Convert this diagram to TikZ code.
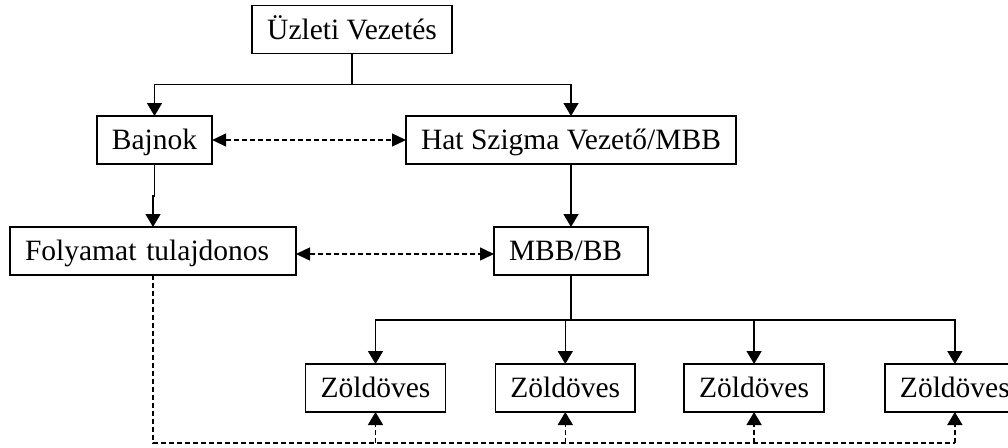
\documentclass[tikz,border=0pt]{standalone}
\usepackage{fontspec}
\setmainfont{Liberation Serif}
\usepackage{tikz}
\usetikzlibrary{arrows.meta,positioning}

\tikzset{
  box/.style={draw, line width=1.5pt, outer sep=0pt, inner xsep=15pt,
    minimum height=48pt, text height=23.6pt, text depth=4.1pt,
    font=\fontsize{29.5}{35}\selectfont},
  arr/.style={-{Triangle[length=13pt,width=15pt]}},
  biarr/.style={{Triangle[length=14pt,width=13pt]}-{Triangle[length=14pt,width=13pt]}},
  link/.style={line width=1.5pt},
  dline/.style={line width=1.5pt, dash pattern=on 5pt off 3pt},
}

\begin{document}
\begin{tikzpicture}[x=1pt, y=-1pt]
        \useasboundingbox (0,0) rectangle (1008,447);
        \clip (0,0) rectangle (1008,447);
        \node [box, minimum width=200pt] (uzleti) at (352,29.5) {Üzleti Vezetés};
        \node [box, minimum width=113pt] (bajnok) at (154.5,140) {Bajnok};
        \node [box, minimum width=330pt] (hatszigma) at (571,140) {Hat Szigma Vezető/MBB};
        \node [box, text width=256pt, align=left] (folyamat) at (153,251) {Folyamat tulajdonos};
        \node [box, text width=124pt, align=left] (mbbbb) at (571,251) {MBB/BB};
        \node [box, minimum width=137pt] (zold1) at (375.5,388) {Zöldöves};
        \node [box, minimum width=137pt, right=50pt of zold1] (zold2) {Zöldöves};
        \node [box, minimum width=137pt, right=49pt of zold2] (zold3) {Zöldöves};
        \node [box, minimum width=137pt, right=61pt of zold3] (zold4) {Zöldöves};
        \coordinate (bus) at (0,443);

        \draw [link] (uzleti.south) -- ++(0,31) coordinate (top);
        \draw [link, arr] (top) -| (bajnok.north);
        \draw [link, arr] (top) -| (hatszigma.north);
        \draw [link, arr] (hatszigma) -- (mbbbb);
        \draw [link, arr] (bajnok.south) -- ++(0,32) -| (folyamat.north);
        \draw [dline, biarr] (bajnok.east) -- (hatszigma.west);
        \draw [dline, biarr] ([yshift=-3pt]folyamat.east) -- ([yshift=-3pt]mbbbb.west);
        \draw [link] (mbbbb.south) -- ++(0,45) coordinate (split);
        \foreach \z in {zold1, zold2, zold3, zold4}
            \draw [link, arr] (split) -| (\z.north);
        \draw [dline] (folyamat.south) |- (zold4.south |- bus);
        \foreach \z in {zold1, zold2, zold3, zold4}
            \draw [dline, arr] (\z.south |- bus) -- (\z.south);
\end{tikzpicture}
\end{document}
